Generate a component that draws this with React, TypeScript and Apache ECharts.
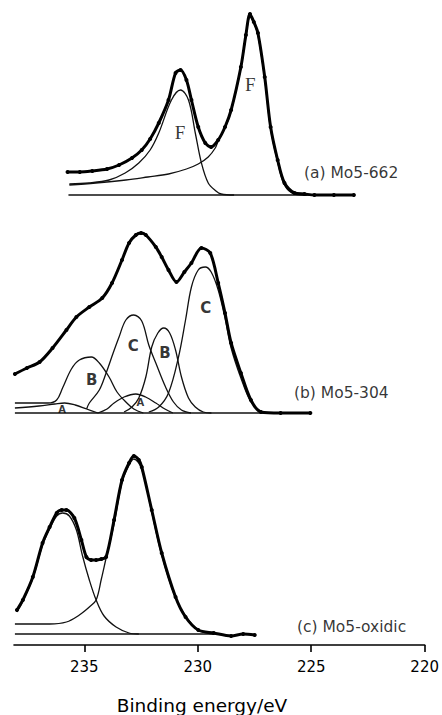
import React, { useEffect, useRef } from "react";
import * as echarts from "echarts";

// ---- axis ----
const X_TICKS = [220, 225, 230, 235];
const X_MIN = 220;
const X_MAX = 238.1;
const X_TITLE = "Binding energy/eV";

// ---- panel vertical offsets (stacking of the three spectra) ----
const BASE_A = 450;
const BASE_B = 232;
const BASE_C = 11;

// ---- (a) Mo5-662 : [binding energy, intensity above panel baseline] ----
const A_DATA: number[][] = [
  [235.74, 23], [235.2, 23], [234.65, 24], [234.0, 26], [233.47, 30], [232.9, 37], [232.47, 45],
  [232.1, 56], [231.72, 72], [231.29, 95], [230.98, 122], [230.76, 125], [230.5, 115], [230.28, 95],
  [229.98, 68], [229.67, 52], [229.41, 48], [229.1, 55], [228.8, 68], [228.53, 85], [228.1, 128],
  [227.88, 160], [227.7, 181], [227.53, 173], [227.35, 162], [227.05, 118], [226.79, 68], [226.48, 35],
  [226.18, 12], [225.74, 2], [225.3, 1], [224.86, 0], [224.0, 0], [223.12, 0],
];
const A_F1: number[][] = [
  [235.66, 11], [234.8, 12], [233.91, 15], [233.2, 22], [232.6, 32], [232.1, 45], [231.72, 62],
  [231.16, 95], [230.76, 105], [230.41, 95], [230.11, 62], [229.84, 32], [229.54, 12], [229.2, 4],
  [228.97, 1], [228.4, 0],
];
const A_F2: number[][] = [
  [235.66, 10], [234.5, 12], [233.17, 15], [232.2, 18], [231.29, 21], [230.5, 26], [229.98, 31],
  [229.54, 38], [229.23, 47], [229.1, 54], [228.8, 67], [228.53, 84], [228.1, 127], [227.88, 158],
  [227.7, 178], [227.53, 172], [227.35, 160], [227.05, 116], [226.79, 66], [226.48, 33], [226.18, 10],
  [225.74, 1], [225.2, 0],
];
const A_BASELINE: number[][] = [[235.7, 0], [223.12, 0]];
const A_LABELS: (number | string)[][] = [
  [230.76, 62, "F"], [227.66, 110, "F"],
];
const A_NAME: (number | string)[] = [225.3, 22, "(a) Mo5-662"];

// ---- (b) Mo5-304 ----
const B_DATA: number[][] = [
  [238.06, 39], [237.53, 45], [236.97, 51], [236.4, 65], [235.79, 83], [235.35, 96], [234.78, 106],
  [234.21, 115], [233.78, 130], [233.34, 153], [233.03, 170], [232.73, 178], [232.5, 180], [232.29, 178],
  [231.85, 166], [231.59, 156], [231.29, 143], [230.94, 131], [230.59, 141], [230.28, 150], [229.84, 165],
  [229.45, 160], [229.1, 130], [228.8, 100], [228.53, 70], [228.1, 40], [227.66, 13], [227.22, 1],
  [226.35, 0], [225.04, 0],
];
const B_C_BIG: number[][] = [
  [232.16, 1], [231.72, 6], [231.29, 20], [230.85, 56], [230.54, 93], [230.28, 126], [229.98, 143],
  [229.67, 146], [229.41, 141], [229.1, 123], [228.8, 95], [228.53, 65], [228.1, 35], [227.66, 11],
  [227.22, 2], [226.8, 0],
];
const B_B_RIGHT: number[][] = [
  [233.25, 1], [232.9, 6], [232.6, 15], [232.29, 36], [232.03, 66], [231.76, 80], [231.5, 85],
  [231.24, 80], [230.98, 63], [230.72, 36], [230.41, 15], [230.11, 6], [229.76, 1], [229.4, 0],
];
const B_C_MID: number[][] = [
  [234.9, 4], [234.78, 10], [234.34, 23], [234.04, 40], [233.73, 60], [233.47, 76], [233.17, 93],
  [232.82, 98], [232.47, 92], [232.16, 68], [231.85, 50], [231.42, 26], [231.07, 11], [230.72, 3],
  [230.3, 0],
];
const B_B_LEFT: number[][] = [
  [238.06, 10], [237.2, 10], [236.6, 10], [236.22, 13], [235.96, 25], [235.57, 44], [235.22, 53],
  [234.69, 56], [234.34, 50], [233.91, 36], [233.56, 21], [233.17, 11], [232.82, 4], [232.4, 0],
];
const B_A_MID: number[][] = [
  [234.4, 0], [234.0, 4], [233.69, 10], [233.25, 16], [232.73, 19], [232.3, 16], [231.85, 10],
  [231.45, 4], [231.1, 0],
];
const B_A_LEFT: number[][] = [
  [238.06, 5], [237.0, 7], [236.3, 9], [235.87, 10], [235.4, 8], [234.9, 4], [234.4, 0],
];
const B_BASELINE: number[][] = [[238.06, 0], [225.04, 0]];
const B_LABELS: (number | string)[][] = [
  [229.63, 105, "C"], [232.82, 67, "C"], [231.42, 60, "B"], [234.65, 33, "B"],
];
const B_SMALL_LABELS: (number | string)[][] = [
  [232.51, 10, "A"], [235.96, 3, "A"],
];
const B_NAME: (number | string)[] = [225.74, 20, "(b) Mo5-304"];

// ---- (c) Mo5-oxidic ----
const C_DATA: number[][] = [
  [237.97, 24], [237.71, 34], [237.27, 57], [236.84, 91], [236.53, 107], [236.22, 121], [236.0, 124],
  [235.79, 124], [235.44, 116], [235.13, 94], [234.91, 77], [234.7, 74], [234.48, 74], [234.25, 75],
  [234.04, 77], [233.69, 114], [233.34, 154], [233.03, 171], [232.82, 178], [232.6, 174], [232.47, 167],
  [232.03, 124], [231.59, 81], [230.98, 37], [230.54, 17], [229.98, 4], [229.3, 1], [228.53, -2],
  [228.0, 0], [227.49, -1],
];
const C_LEFT: number[][] = [
  [237.97, 22], [237.71, 33], [237.27, 56], [236.84, 89], [236.53, 105], [236.22, 118], [235.96, 121],
  [235.66, 118], [235.35, 104], [235.09, 79], [234.78, 54], [234.48, 34], [234.13, 18], [233.6, 7],
  [233.03, 1], [232.6, 0],
];
const C_RIGHT: number[][] = [
  [238.06, 10], [236.53, 10], [235.79, 12], [235.22, 19], [234.78, 27], [234.48, 34], [234.25, 55],
  [234.04, 76], [233.69, 110], [233.34, 152], [233.03, 169], [232.82, 175], [232.47, 165], [232.03, 122],
  [231.59, 79], [230.98, 36], [230.54, 18], [229.98, 4], [229.32, 0],
];
const C_BASELINE: number[][] = [[238.06, 0], [229.3, 0]];
const C_NAME: (number | string)[] = [225.61, 7, "(c) Mo5-oxidic"];

const shift = (arr: number[][], base: number) => arr.map(([x, y]) => [x, y + base]);

function thinLine(data: number[][], base: number, smooth: number | boolean = 0.35) {
  return {
    type: "line",
    data: shift(data, base),
    smooth,
    showSymbol: false,
    silent: true,
    lineStyle: { color: "#111", width: 1.3 },
    z: 2,
  };
}

function dataLine(data: number[][], base: number) {
  return {
    type: "line",
    data: shift(data, base),
    smooth: 0.3,
    showSymbol: true,
    showAllSymbol: true,
    symbol: "circle",
    symbolSize: 4,
    silent: true,
    itemStyle: { color: "#000" },
    lineStyle: { color: "#000", width: 3 },
    z: 3,
  };
}

function labels(list: (number | string)[][], base: number, font: any, align: string) {
  return {
    type: "scatter",
    data: list.map(([x, y, t]) => ({ value: [x as number, (y as number) + base], name: t as string })),
    symbolSize: 1,
    silent: true,
    itemStyle: { color: "transparent" },
    label: {
      show: true,
      formatter: "{b}",
      position: [0, 0],
      align,
      verticalAlign: "middle",
      color: "#000",
      ...font,
    },
    z: 5,
  };
}

export default function App() {
  const ref = useRef<HTMLDivElement>(null);
  useEffect(() => {
    const chart = echarts.init(ref.current!, null, { renderer: "svg" });
    const nameFont = { fontFamily: "DejaVu Sans", fontSize: 15.5 };
    chart.setOption({
      animation: false,
      backgroundColor: "#fff",
      grid: { left: 14, right: 14, top: 5, bottom: 70 },
      xAxis: {
        type: "value",
        inverse: true,
        min: X_MIN,
        max: X_MAX,
        interval: 5,
        splitLine: { show: false },
        axisLine: { lineStyle: { color: "#000", width: 1.6 } },
        axisTick: { show: true, customValues: X_TICKS, length: 7, lineStyle: { color: "#000", width: 1.6 } },
        axisLabel: {
          customValues: X_TICKS,
          color: "#000",
          fontFamily: "DejaVu Sans",
          fontSize: 15,
          margin: 14,
        },
      },
      yAxis: { type: "value", min: 0, max: 640, show: false },
      graphic: [
        {
          type: "text",
          x: 202,
          y: 705,
          style: {
            text: X_TITLE,
            fontFamily: "DejaVu Sans",
            fontSize: 18.5,
            fill: "#000",
            align: "center",
            verticalAlign: "middle",
          },
        },
      ],
      series: [
        // (a)
        thinLine(A_BASELINE, BASE_A, false),
        thinLine(A_F1, BASE_A),
        thinLine(A_F2, BASE_A),
        dataLine(A_DATA, BASE_A),
        labels(A_LABELS, BASE_A, { fontFamily: "Liberation Serif", fontSize: 19 }, "center"),
        labels([A_NAME], BASE_A, nameFont, "left"),
        // (b)
        thinLine(B_BASELINE, BASE_B, false),
        thinLine(B_A_LEFT, BASE_B),
        thinLine(B_A_MID, BASE_B),
        thinLine(B_B_LEFT, BASE_B),
        thinLine(B_C_MID, BASE_B),
        thinLine(B_B_RIGHT, BASE_B),
        thinLine(B_C_BIG, BASE_B),
        dataLine(B_DATA, BASE_B),
        labels(B_LABELS, BASE_B, { fontFamily: "DejaVu Sans", fontSize: 15, fontWeight: "bold" }, "center"),
        labels(B_SMALL_LABELS, BASE_B, { fontFamily: "DejaVu Sans", fontSize: 10, fontWeight: "bold" }, "center"),
        labels([B_NAME], BASE_B, nameFont, "left"),
        // (c)
        thinLine(C_BASELINE, BASE_C, false),
        thinLine(C_LEFT, BASE_C),
        thinLine(C_RIGHT, BASE_C),
        dataLine(C_DATA, BASE_C),
        labels([C_NAME], BASE_C, nameFont, "left"),
      ],
    });
    return () => chart.dispose();
  }, []);
  return (
    <div
      ref={ref}
      style={{ position: "absolute", left: 0, top: 0, width: 442, height: 715, background: "#fff" }}
    />
  );
}
